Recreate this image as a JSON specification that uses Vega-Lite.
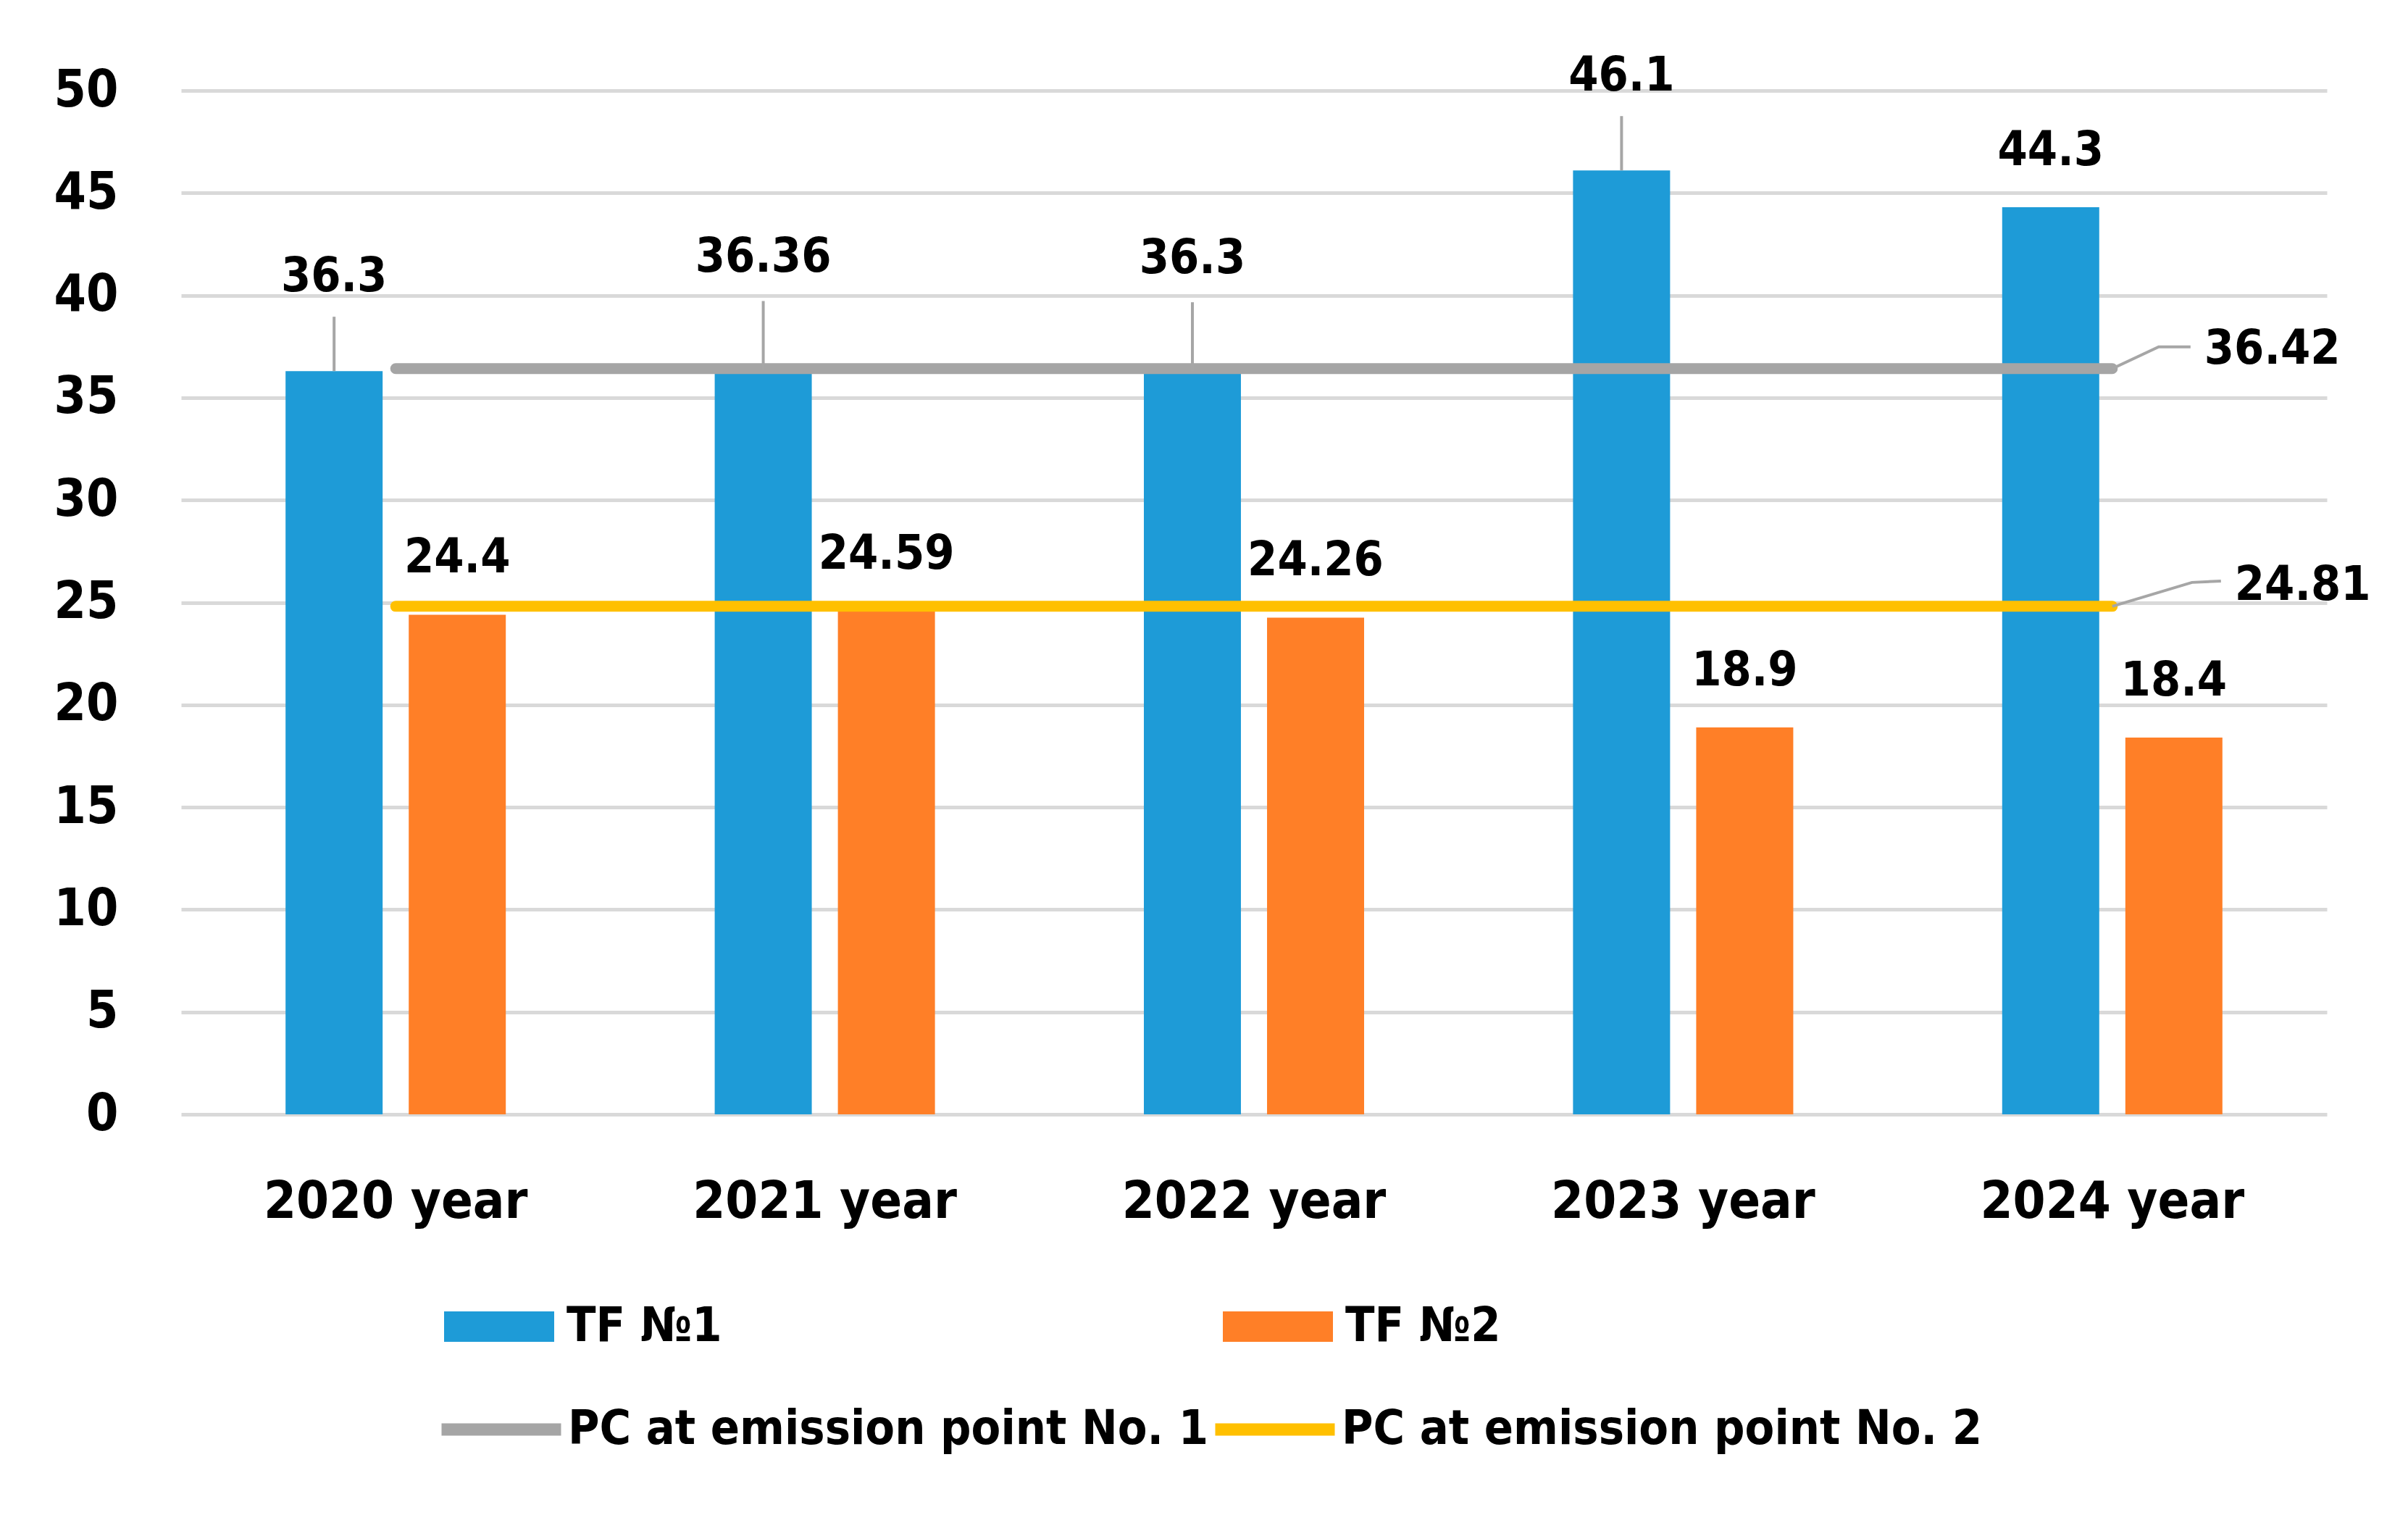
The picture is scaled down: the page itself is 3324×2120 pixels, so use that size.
{
  "$schema": "https://vega.github.io/schema/vega-lite/v6.json",
  "width": 2962,
  "height": 1413,
  "autosize": {"type": "none"},
  "padding": {"left": 250, "top": 125, "right": 112, "bottom": 582},
  "background": "white",
  "datasets": {
    "bars": [
      {"year": "2020 year", "series": "TF №1", "value": 36.3},
      {"year": "2020 year", "series": "TF №2", "value": 24.4},
      {"year": "2021 year", "series": "TF №1", "value": 36.36},
      {"year": "2021 year", "series": "TF №2", "value": 24.59},
      {"year": "2022 year", "series": "TF №1", "value": 36.3},
      {"year": "2022 year", "series": "TF №2", "value": 24.26},
      {"year": "2023 year", "series": "TF №1", "value": 46.1},
      {"year": "2023 year", "series": "TF №2", "value": 18.9},
      {"year": "2024 year", "series": "TF №1", "value": 44.3},
      {"year": "2024 year", "series": "TF №2", "value": 18.4}
    ],
    "lines": [
      {"year": "2020 year", "series": "PC at emission point No. 1", "value": 36.42},
      {"year": "2021 year", "series": "PC at emission point No. 1", "value": 36.42},
      {"year": "2022 year", "series": "PC at emission point No. 1", "value": 36.42},
      {"year": "2023 year", "series": "PC at emission point No. 1", "value": 36.42},
      {"year": "2024 year", "series": "PC at emission point No. 1", "value": 36.42},
      {"year": "2020 year", "series": "PC at emission point No. 2", "value": 24.81},
      {"year": "2021 year", "series": "PC at emission point No. 2", "value": 24.81},
      {"year": "2022 year", "series": "PC at emission point No. 2", "value": 24.81},
      {"year": "2023 year", "series": "PC at emission point No. 2", "value": 24.81},
      {"year": "2024 year", "series": "PC at emission point No. 2", "value": 24.81}
    ]
  },
  "layer": [
    {
      "data": {"name": "bars"},
      "mark": {"type": "bar"},
      "encoding": {
        "x": {
          "field": "year",
          "type": "nominal",
          "scale": {"paddingInner": 0, "paddingOuter": 0},
          "axis": {
            "title": null,
            "domain": false,
            "ticks": false,
            "tickSize": 0,
            "grid": false,
            "labelAngle": 0,
            "labelFontSize": 72,
            "labelFontWeight": "bold",
            "labelColor": "black",
            "labelPadding": 85,
            "labelLimit": 0
          }
        },
        "xOffset": {
          "field": "series",
          "type": "nominal",
          "scale": {"paddingInner": 0.212, "paddingOuter": 0.848}
        },
        "y": {
          "field": "value",
          "type": "quantitative",
          "scale": {"domain": [0, 50], "nice": false},
          "axis": {
            "title": null,
            "values": [0, 5, 10, 15, 20, 25, 30, 35, 40, 45, 50],
            "domain": false,
            "ticks": false,
            "tickSize": 0,
            "grid": true,
            "gridColor": "#D9D9D9",
            "gridWidth": 5,
            "labelFontSize": 71,
            "labelFontWeight": "bold",
            "labelColor": "black",
            "labelPadding": 87
          }
        },
        "fill": {
          "field": "series",
          "type": "nominal",
          "scale": {"domain": ["TF №1", "TF №2"], "range": ["#1E9BD7", "#FF7F27"]},
          "legend": {
            "orient": "none",
            "legendX": 363,
            "legendY": 1630,
            "title": null,
            "columns": 2,
            "columnPadding": 691,
            "padding": 0,
            "symbolType": "M-1,-0.276L1,-0.276L1,0.276L-1,0.276Z",
            "symbolSize": 23104,
            "symbolStrokeWidth": 0,
            "symbolOpacity": 1,
            "labelFontSize": 66,
            "labelFontWeight": "bold",
            "labelColor": "black",
            "labelOffset": 17,
            "labelLimit": 0
          }
        }
      }
    },
    {
      "data": {"name": "lines"},
      "mark": {"type": "line", "strokeWidth": 15, "strokeCap": "round"},
      "encoding": {
        "x": {"field": "year", "type": "nominal"},
        "y": {"field": "value", "type": "quantitative"},
        "stroke": {
          "field": "series",
          "type": "nominal",
          "scale": {
            "domain": ["PC at emission point No. 1", "PC at emission point No. 2"],
            "range": ["#A5A5A5", "#FFC000"]
          },
          "legend": {
            "orient": "none",
            "legendX": 351,
            "legendY": 1757,
            "title": null,
            "columns": 2,
            "columnPadding": -41,
            "padding": 0,
            "symbolType": "stroke",
            "symbolSize": 27225,
            "symbolStrokeWidth": 17,
            "symbolOpacity": 1,
            "labelFontSize": 66,
            "labelFontWeight": "bold",
            "labelColor": "black",
            "labelOffset": 1,
            "labelLimit": 0
          }
        }
      }
    },
    {
      "data": {"name": "bars"},
      "transform": [{"filter": {"field": "series", "equal": "TF №2"}}],
      "mark": {"type": "text", "fontSize": 66, "fontWeight": "bold", "baseline": "middle", "dy": -78, "color": "black"},
      "encoding": {
        "x": {"field": "year", "type": "nominal"},
        "xOffset": {"field": "series", "type": "nominal"},
        "y": {"field": "value", "type": "quantitative"},
        "text": {"field": "value", "type": "quantitative"}
      }
    },
    {
      "data": {"name": "bars"},
      "transform": [{"filter": {"and": [{"field": "series", "equal": "TF №1"}, {"field": "year", "oneOf": ["2020 year", "2023 year"]}]}}],
      "layer": [
        {
          "mark": {"type": "point", "shape": "M0,0L0,-1", "size": 22500, "filled": false, "stroke": "#A6A6A6", "strokeWidth": 4, "opacity": 1},
          "encoding": {
            "x": {"field": "year", "type": "nominal"},
            "xOffset": {"field": "series", "type": "nominal"},
            "y": {"field": "value", "type": "quantitative"}
          }
        },
        {
          "mark": {"type": "text", "fontSize": 66, "fontWeight": "bold", "baseline": "middle", "dy": -130, "color": "black"},
          "encoding": {
            "x": {"field": "year", "type": "nominal"},
            "xOffset": {"field": "series", "type": "nominal"},
            "y": {"field": "value", "type": "quantitative"},
            "text": {"field": "value", "type": "quantitative"}
          }
        }
      ]
    },
    {
      "data": {"name": "bars"},
      "transform": [{"filter": {"and": [{"field": "series", "equal": "TF №1"}, {"field": "year", "oneOf": ["2021 year", "2022 year"]}]}}],
      "layer": [
        {
          "mark": {"type": "point", "shape": "M0,0L0,-1", "size": 36100, "filled": false, "stroke": "#A6A6A6", "strokeWidth": 4, "opacity": 1},
          "encoding": {
            "x": {"field": "year", "type": "nominal"},
            "xOffset": {"field": "series", "type": "nominal"},
            "y": {"field": "value", "type": "quantitative"}
          }
        },
        {
          "mark": {"type": "text", "fontSize": 66, "fontWeight": "bold", "baseline": "middle", "dy": -155, "color": "black"},
          "encoding": {
            "x": {"field": "year", "type": "nominal"},
            "xOffset": {"field": "series", "type": "nominal"},
            "y": {"field": "value", "type": "quantitative"},
            "text": {"field": "value", "type": "quantitative"}
          }
        }
      ]
    },
    {
      "data": {"name": "bars"},
      "transform": [{"filter": {"and": [{"field": "series", "equal": "TF №1"}, {"field": "year", "equal": "2024 year"}]}}],
      "mark": {"type": "text", "fontSize": 66, "fontWeight": "bold", "baseline": "middle", "dy": -78, "color": "black"},
      "encoding": {
        "x": {"field": "year", "type": "nominal"},
        "xOffset": {"field": "series", "type": "nominal"},
        "y": {"field": "value", "type": "quantitative"},
        "text": {"field": "value", "type": "quantitative"}
      }
    },
    {
      "data": {"name": "lines"},
      "transform": [{"filter": {"and": [{"field": "series", "equal": "PC at emission point No. 1"}, {"field": "year", "equal": "2024 year"}]}}],
      "layer": [
        {
          "mark": {"type": "point", "shape": "M0,0L0.593,-0.278L1,-0.278", "size": 46656, "filled": false, "stroke": "#A6A6A6", "strokeWidth": 4, "opacity": 1},
          "encoding": {
            "x": {"field": "year", "type": "nominal"},
            "y": {"field": "value", "type": "quantitative"}
          }
        },
        {
          "mark": {"type": "text", "fontSize": 66, "fontWeight": "bold", "baseline": "middle", "align": "left", "dx": 127, "dy": -27, "color": "black"},
          "encoding": {
            "x": {"field": "year", "type": "nominal"},
            "y": {"field": "value", "type": "quantitative"},
            "text": {"field": "value", "type": "quantitative"}
          }
        }
      ]
    },
    {
      "data": {"name": "lines"},
      "transform": [{"filter": {"and": [{"field": "series", "equal": "PC at emission point No. 2"}, {"field": "year", "equal": "2024 year"}]}}],
      "layer": [
        {
          "mark": {"type": "point", "shape": "M0,0L0.733,-0.22L1,-0.233", "size": 90000, "filled": false, "stroke": "#A6A6A6", "strokeWidth": 4, "opacity": 1},
          "encoding": {
            "x": {"field": "year", "type": "nominal"},
            "y": {"field": "value", "type": "quantitative"}
          }
        },
        {
          "mark": {"type": "text", "fontSize": 66, "fontWeight": "bold", "baseline": "middle", "align": "left", "dx": 169, "dy": -29, "color": "black"},
          "encoding": {
            "x": {"field": "year", "type": "nominal"},
            "y": {"field": "value", "type": "quantitative"},
            "text": {"field": "value", "type": "quantitative"}
          }
        }
      ]
    }
  ],
  "config": {
    "font": "DejaVu Sans Condensed, DejaVu Sans",
    "view": {"stroke": null}
  }
}
